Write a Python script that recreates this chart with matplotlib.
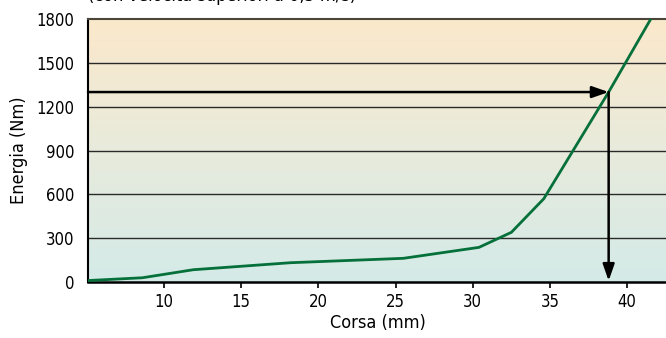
import matplotlib
matplotlib.use("Agg")
import matplotlib.pyplot as plt
import numpy as np
from matplotlib.colors import LinearSegmentedColormap

plt.rcParams['font.family'] = ['Liberation Sans Narrow', 'DejaVu Sans']
plt.rcParams['font.stretch'] = 'condensed'

# Stroke (mm) vs absorbed energy (Nm)
corsa = [5.1, 8.6, 11.9, 18.2, 25.5, 30.4, 32.5, 34.6, 38.8, 41.5]
energia = [10, 29, 84, 132, 162, 237, 340, 570, 1300, 1795]

target_energy = 1300
target_stroke = 38.8

x_ticks = [10, 15, 20, 25, 30, 35, 40]
y_ticks = [0, 300, 600, 900, 1200, 1500, 1800]

fig = plt.figure(figsize=(6.66, 3.38), dpi=100)
ax = fig.add_axes([88/666, 56/338, 1 - 88/666 + 0.002, (282-19)/338])

xmin, xmax = 5.08, 42.6
ymin, ymax = 0, 1800
ax.set_xlim(xmin, xmax)
ax.set_ylim(ymin, ymax)

# vertical background gradient: light teal at bottom, peach at top
cmap = LinearSegmentedColormap.from_list("bg", ["#d4eae8", "#e8ebdc", "#fbe8cb"])
grad = np.linspace(0, 1, 256).reshape(-1, 1)
ax.imshow(grad, aspect="auto", cmap=cmap, origin="lower",
          extent=[0, 1, 0, 1], transform=ax.transAxes, zorder=0)

for y in y_ticks[1:-1]:
    ax.axhline(y, color="#2a2a2a", lw=1.0, zorder=1)

ax.plot(corsa, energia, color="#05703a", lw=2.0, zorder=3, solid_joinstyle="miter")

# reading arrows: across at the target energy, then down to the stroke axis
arrow_style = dict(arrowstyle="-|>,head_length=1.0,head_width=0.35",
                   color="black", lw=1.8, shrinkA=0, shrinkB=0)
ax.annotate("", xy=(target_stroke, target_energy), xytext=(xmin, target_energy),
            arrowprops=arrow_style, zorder=4)
ax.annotate("", xy=(target_stroke, 8), xytext=(target_stroke, target_energy),
            arrowprops=arrow_style, zorder=4)

ax.set_xticks(x_ticks)
ax.set_yticks(y_ticks)
ax.tick_params(axis="x", length=4, width=1.2, labelsize=12, pad=4, color="black")
ax.tick_params(axis="y", length=0, labelsize=12, pad=10)

ax.spines["right"].set_visible(False)
ax.spines["top"].set_color("#4a4538")
ax.spines["top"].set_linewidth(1.5)
ax.spines["left"].set_linewidth(1.5)
ax.spines["bottom"].set_linewidth(1.8)

ax.set_xlabel("Corsa (mm)", fontsize=13, labelpad=2)
ax.set_ylabel("Energia (Nm)", fontsize=13, labelpad=6)

fig.text(88/666, 1.0 + 0.012, "(con velocità superiori a 0,5 m/s)", fontsize=13,
         ha="left", va="center")

fig.savefig("out.png", dpi=100)
